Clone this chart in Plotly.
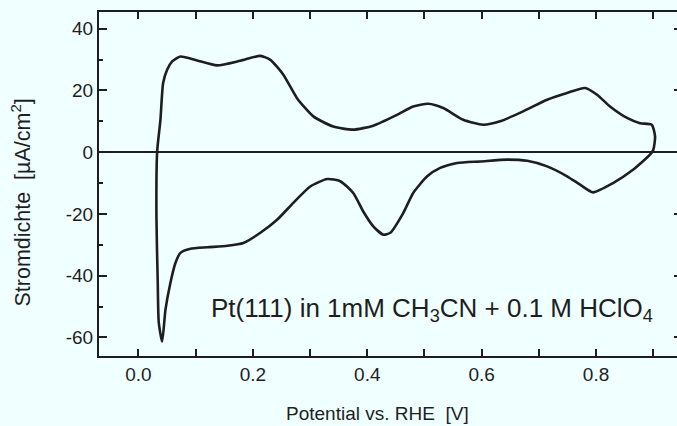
import plotly.graph_objects as go

# Cyclic voltammogram: anodic sweep (lower vertex -> upper vertex)
potential_anodic = [0.0414, 0.0355, 0.0337, 0.0314, 0.0327, 0.0384, 0.0431, 0.0501, 0.0589, 0.0734,
                    0.1025, 0.1375, 0.178, 0.213, 0.2306, 0.2533, 0.2772, 0.3057, 0.3406, 0.3755,
                    0.4105, 0.4519, 0.4803, 0.5066, 0.5328, 0.5677, 0.6026, 0.6323, 0.6725, 0.7144,
                    0.7493, 0.7808, 0.8017, 0.8244, 0.8541, 0.8769, 0.8973, 0.9031, 0.9001]
current_anodic = [-61.3, -55.2, -42.2, -20.8, 0.3, 10.5, 22.4, 26.7, 29.4, 31.0,
                  29.7, 28.1, 29.6, 31.2, 29.9, 25.1, 17.5, 11.6, 8.3, 7.3,
                  8.6, 12.1, 14.8, 15.7, 14.3, 10.5, 8.9, 10.0, 13.2, 17.0,
                  19.2, 20.8, 18.6, 14.8, 11.1, 9.4, 8.9, 5.1, 0.8]
# cathodic sweep (upper vertex -> lower vertex)
potential_cathodic = [0.8943, 0.8646, 0.8297, 0.7948, 0.7721, 0.7493, 0.7144, 0.6795, 0.6445, 0.5974,
                      0.5572, 0.5275, 0.5048, 0.4803, 0.4629, 0.4402, 0.4279, 0.4105, 0.393, 0.3755,
                      0.3528, 0.3301, 0.3004, 0.2707, 0.2428, 0.2131, 0.1834, 0.1555, 0.1205, 0.0908,
                      0.0734, 0.0646, 0.0559, 0.0472, 0.0414]
current_cathodic = [-0.8, -5.7, -10.0, -13.0, -10.5, -7.8, -4.6, -2.8, -2.4, -3.0,
                    -3.5, -5.1, -7.8, -13.2, -19.7, -26.1, -26.7, -24.0, -19.2, -13.2,
                    -9.4, -8.7, -11.1, -16.4, -21.8, -26.1, -29.4, -30.3, -30.8, -31.3,
                    -32.6, -35.9, -42.3, -51.0, -61.3]

x_tickvals = [0.0, 0.2, 0.4, 0.6, 0.8]
x_ticktext = ["0.0", "0.2", "0.4", "0.6", "0.8"]
y_tickvals = [-60, -40, -20, 0, 20, 40]
y_ticktext = ["-60", "-40", "-20", "0", "20", "40"]

x_label = "Potential vs. RHE  [V]"
y_label = "Stromdichte  [µA/cm<sup>2</sup>]"
caption = "Pt(111) in 1mM CH<sub>3</sub>CN + 0.1 M HClO<sub>4</sub>"

ink = "#1e1e1e"
bg = "#f0ffff"
font_family = "Arial, Liberation Sans, sans-serif"

fig = go.Figure()
fig.add_trace(go.Scatter(
    x=potential_anodic + potential_cathodic,
    y=current_anodic + current_cathodic,
    mode="lines",
    line=dict(color=ink, width=2.6, shape="spline", smoothing=0.6),
    showlegend=False,
    hoverinfo="skip",
))

fig.update_layout(
    width=677, height=426,
    margin=dict(l=99, r=0, t=12, b=70),
    paper_bgcolor=bg, plot_bgcolor=bg,
    font=dict(family=font_family, size=19, color=ink),
    xaxis=dict(
        range=[-0.069, 0.9415],
        tickvals=x_tickvals, ticktext=x_ticktext,
        ticks="inside", ticklen=7, tickwidth=1.5, tickcolor=ink,
        minor=dict(dtick=0.1, tick0=0, ticks="inside", ticklen=4, tickwidth=1.5, tickcolor=ink),
        showline=True, linecolor=ink, linewidth=2, mirror="allticks",
        showgrid=False, zeroline=False,
        tickfont=dict(size=19, color=ink),
    ),
    yaxis=dict(
        range=[-66.0, 45.4],
        tickvals=y_tickvals, ticktext=y_ticktext,
        ticks="inside", ticklen=8, tickwidth=1.5, tickcolor=ink,
        minor=dict(dtick=10, tick0=0, ticks="inside", ticklen=4, tickwidth=1.5, tickcolor=ink),
        showline=True, linecolor=ink, linewidth=2, mirror=False,
        showgrid=False,
        zeroline=True, zerolinecolor=ink, zerolinewidth=2,
        tickfont=dict(size=19, color=ink),
    ),
    yaxis2=dict(
        range=[-66.0, 45.4], overlaying="y", side="right",
        tickvals=y_tickvals, showticklabels=False,
        ticks="inside", ticklen=3, tickwidth=1.5, tickcolor=ink,
        showline=False, showgrid=False, zeroline=False,
    ),
)
# invisible trace to activate the right-hand tick axis
fig.add_trace(go.Scatter(x=[None], y=[None], yaxis="y2", showlegend=False, hoverinfo="skip"))

fig.add_annotation(text=x_label, xref="paper", yref="paper", x=0.481, y=-0.166,
                   xanchor="center", yanchor="middle", showarrow=False,
                   font=dict(size=19, color=ink))
fig.add_annotation(text=y_label, xref="paper", yref="paper", x=-0.135, y=0.446,
                   xanchor="center", yanchor="middle", showarrow=False, textangle=-90,
                   font=dict(size=21.5, color=ink))
fig.add_annotation(text=caption, xref="paper", yref="paper", x=0.190, y=0.134,
                   xanchor="left", yanchor="middle", showarrow=False,
                   font=dict(size=26, color=ink))

fig.write_html("out.html")
